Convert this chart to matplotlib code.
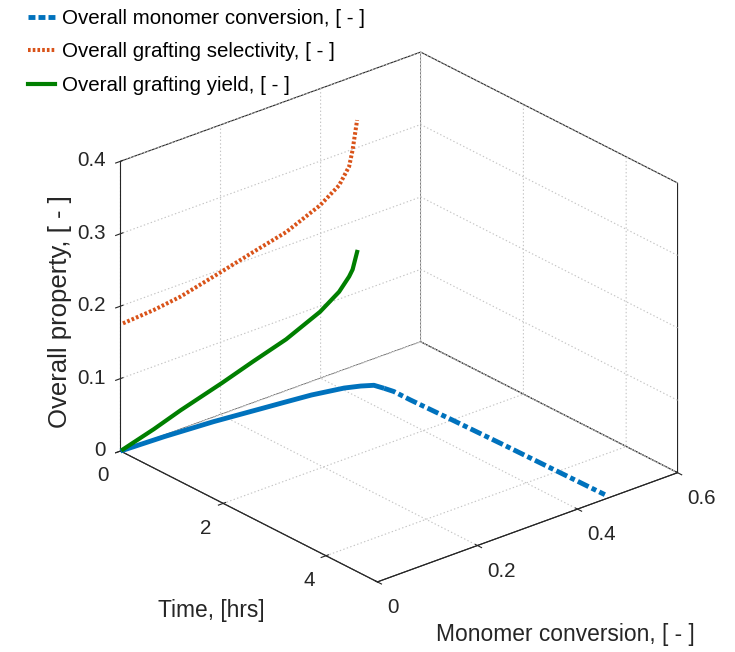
import matplotlib
matplotlib.use("Agg")
import matplotlib.pyplot as plt
from matplotlib.lines import Line2D

plt.rcParams['font.family'] = ['Liberation Sans', 'DejaVu Sans']
plt.rcParams['grid.color'] = '#c4c4c4'
plt.rcParams['grid.linestyle'] = ':'
plt.rcParams['grid.linewidth'] = 0.8
plt.rcParams['lines.scale_dashes'] = False

# monomer conversion vs. time, drawn on the floor (property = 0)
time_hr = [0, 0.034, 0.10, 0.20, 0.24, 0.30, 0.41, 0.50, 0.59, 0.74,
           0.89, 1.21, 2.0, 3.0, 4.0, 4.9]
conversion = [0, 0.084, 0.176, 0.264, 0.300, 0.351, 0.405, 0.429, 0.446, 0.451,
              0.455, 0.455, 0.458, 0.461, 0.463, 0.465]

# selectivity / yield vs. conversion, drawn on the back wall (time = 0)
conv_wall = [0.005, 0.067, 0.120, 0.203, 0.265, 0.331, 0.399, 0.437, 0.457, 0.464, 0.473]
selectivity = [0.175, 0.178, 0.183, 0.197, 0.208, 0.219, 0.239, 0.257, 0.278, 0.299, 0.338]
graft_yield = [0.001, 0.0135, 0.026, 0.043, 0.057, 0.071, 0.092, 0.110, 0.126, 0.134, 0.156]

t_ticks = [0, 2, 4]
t_labels = ['0', '2', '4']
x_ticks = [0, 0.2, 0.4, 0.6]
x_labels = ['0', '0.2', '0.4', '0.6']
p_ticks = [0, 0.1, 0.2, 0.3, 0.4]
p_labels = ['0', '0.1', '0.2', '0.3', '0.4']

c_blue = '#0072BD'
c_orange = '#D95319'
c_green = '#007F00'
c_axis = '#262626'

W, H = 735, 652
fig = plt.figure(figsize=(W / 100, H / 100), dpi=100)

side = 560
cx, cy = 399, H - 317
ax = fig.add_axes([(cx - 0.5135 * side) / W, (cy - 0.5135 * side) / H, side / W, side / H],
                  projection='3d', proj_type='ortho', computed_zorder=False)
ax.view_init(elev=25.5, azim=-40.2)
ax.set_box_aspect((398, 393, 321), zoom=1.118)

ax.set_xlim(0, 5)
ax.set_ylim(0, 0.6)
ax.set_zlim(0, 0.4)

# floor: conversion history (dense start drawn solid, remainder dashed)
n_solid = 10
zeros = [0] * len(time_hr)
ax.plot(time_hr[:n_solid], conversion[:n_solid], zeros[:n_solid],
        color=c_blue, lw=3.5, solid_capstyle='butt')
ax.plot(time_hr[n_solid - 1:], conversion[n_solid - 1:], zeros[n_solid - 1:],
        color=c_blue, lw=3.5, linestyle=(0, (8.6, 2.5, 3.6, 2.5)))

# back wall: selectivity and yield against conversion
wall = [0] * len(conv_wall)
ax.plot(wall, conv_wall, selectivity, color=c_orange, lw=2.9,
        linestyle=(0, (1.9, 1.5)))
ax.plot(wall, conv_wall, graft_yield, color=c_green, lw=3.0)

ax.set_xticks(t_ticks)
ax.set_xticklabels(t_labels)
ax.set_yticks(x_ticks)
ax.set_yticklabels(x_labels)
ax.set_zticks(p_ticks)
ax.set_zticklabels(p_labels)
ax.zaxis.set_ticks_position('lower')

for axis in (ax.xaxis, ax.yaxis, ax.zaxis):
    axis.set_pane_color((1, 1, 1, 1))
    axis.pane.set_edgecolor(c_axis)
    axis.pane.set_linewidth(0.8)
    axis.line.set_color(c_axis)
    axis.line.set_linewidth(0.8)
ax.tick_params(labelsize=14.8, colors=c_axis)
ax.xaxis.set_tick_params(pad=0)
ax.yaxis.set_tick_params(pad=0)
ax.zaxis.set_tick_params(pad=-2.4)
for lbl in ax.xaxis.get_majorticklabels():
    lbl.set_ha('right')
for lbl in ax.yaxis.get_majorticklabels():
    lbl.set_ha('left')
for lbl in ax.zaxis.get_majorticklabels():
    lbl.set_ha('right')
    lbl.set_va('center')

fig.text(211 / W, 1 - 611 / H, 'Time, [hrs]', fontsize=16.4, color=c_axis,
         ha='center', va='center')
fig.text(565 / W, 1 - 634 / H, 'Monomer conversion, [ - ]', fontsize=16.4,
         color=c_axis, ha='center', va='center')
fig.text(60 / W, 1 - 312 / H, 'Overall property, [ - ]', fontsize=18.5,
         color=c_axis, ha='center', va='center', rotation=90)

handles = [
    Line2D([], [], color=c_blue, lw=3.5, linestyle=(0, (5.0, 2.2))),
    Line2D([], [], color=c_orange, lw=2.9, linestyle=(0, (1.9, 1.5))),
    Line2D([], [], color=c_green, lw=3.0),
]
labels = ['Overall monomer conversion, [ - ]',
          'Overall grafting selectivity, [ - ]',
          'Overall grafting yield, [ - ]']
fig.legend(handles, labels, loc='upper left', bbox_to_anchor=(28 / W, 1 - 9 / H),
           frameon=False, fontsize=14.8, borderpad=0, borderaxespad=0,
           handlelength=1.32, handletextpad=0.34, labelspacing=0.70)

fig.savefig('out.png', dpi=100)
